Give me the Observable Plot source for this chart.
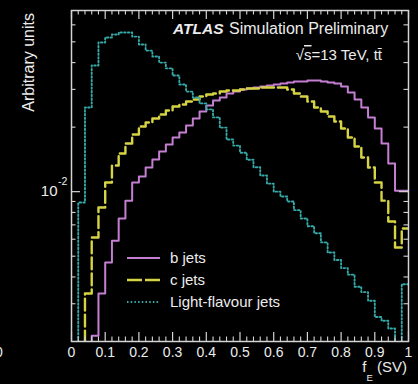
<!DOCTYPE html>
<html><head><meta charset="utf-8">
<script src="https://cdn.jsdelivr.net/npm/d3@7"></script>
<script src="https://cdn.jsdelivr.net/npm/@observablehq/plot@0.6"></script>
<style>
html,body{margin:0;padding:0;background:#000;}
#chart{width:418px;height:384px;overflow:hidden;}
</style></head><body><div id="chart"></div>
<script>
// ---- data ----
const binWidth = 0.02;
const binLow = d3.range(50).map(i => +(i * binWidth).toFixed(2)); // low edges of the 50 bins, 0 .. 0.98
const xMax = 1;
const seriesNames = ["b jets", "c jets", "Light-flavour jets"];
const seriesColors = ["#c47fd2", "#d6d444", "#36a8a8"];
const bJets = [0,0,0,0.00213,0.00335,0.00467,0.00591,0.00750,0.00908,0.01103,
  0.01177,0.01296,0.01413,0.01539,0.01660,0.01789,0.01888,0.02035,0.02194,0.02365,
  0.02523,0.02661,0.02749,0.02870,0.02932,0.02996,0.03028,0.03061,0.03094,0.03127,
  0.03162,0.03196,0.03230,0.03265,0.03265,0.03299,0.03299,0.03265,0.03230,0.03196,
  0.03094,0.02901,0.02691,0.02470,0.02217,0.01971,0.01678,0.01353,0.01011,0.01011];
const cJets = [0,0,0.00335,0.00611,0.00844,0.01103,0.01324,0.01507,0.01678,0.01848,
  0.02014,0.02102,0.02194,0.02291,0.02390,0.02496,0.02550,0.02634,0.02691,0.02779,
  0.02839,0.02870,0.02932,0.02963,0.02963,0.02996,0.03028,0.03028,0.03061,0.03061,
  0.03061,0.03061,0.02996,0.02870,0.02779,0.02634,0.02470,0.02365,0.02242,0.02125,
  0.01971,0.01789,0.01624,0.01443,0.01296,0.01103,0.00908,0.00726,0.00549,0.00673];
const lightJets = [0,0.0089,0.0247,0.0388,0.0496,0.0524,0.0541,0.0553,0.0553,0.0529,
  0.0486,0.0455,0.0427,0.0400,0.0376,0.0348,0.0316,0.0293,0.0275,0.0258,
  0.0242,0.0222,0.0199,0.0175,0.0164,0.0152,0.0141,0.0130,0.0119,0.0109,
  0.0100,0.0095,0.0090,0.0082,0.0075,0.0069,0.0064,0.0058,0.0052,0.0048,
  0.0044,0.0041,0.0036,0.0034,0.0031,0.0026,0.0025,0.0023,0,0.0037];
const xTickValues = [0,0.1,0.2,0.3,0.4,0.5,0.6,0.7,0.8,0.9,1];
const xTickLabels = ["0","0.1","0.2","0.3","0.4","0.5","0.6","0.7","0.8","0.9","1"];
const xMinorTicks = d3.range(0, 51).map(i => +(i * 0.02).toFixed(2)).filter(v => Math.abs(v * 10 - Math.round(v * 10)) > 1e-6);
const yTickValues = [0.01];
const yTickBase = "10", yTickExp = "-2";
const yMinorTicks = [0.003,0.004,0.005,0.006,0.007,0.008,0.009,0.02,0.03,0.04,0.05,0.06];
const yDomain = [0.002, 0.07];
const yTitle = "Arbitrary units";
const atlasBold = "ATLAS", atlasRest = "Simulation Preliminary";
const energyLabel = ["\u221A", "s", "=13 TeV, t", "t\u0304"];
const xTitle = ["f", "E", " (SV)"];

// ---- layout ----
const W = 418, H = 384, mL = 71, mR = 10, mT = 10, mB = 43;
const pw = W - mL - mR, ph = H - mT - mB;
const FONT = "'Liberation Sans', Arial, Helvetica, sans-serif";
const TXT = "#ececec", AX = "#d4d4d4";

function toSteps(vals, name) {
  const rows = vals.map((v, i) => ({x: binLow[i], v: v > 0 ? v : 1e-6, name}));
  rows.push({x: xMax, v: rows[rows.length - 1].v, name});
  return rows;
}
const series = [bJets, cJets, lightJets].map((vals, i) => toSteps(vals, seriesNames[i]));
const widths = [2, 2.4, 1.9];
const dashes = [null, "12,4", "1.5,2.2"];
const legendDashes = [null, "15,3", "1.5,2.2"];

function decorations(index, scales, values, dims) {
  const {width, height, marginLeft, marginRight, marginTop, marginBottom} = dims;
  const right = width - marginRight, bottom = height - marginBottom;
  const g = d3.create("svg:g").attr("font-family", FONT).attr("fill", TXT).attr("text-anchor", "start");
  // legend
  seriesNames.forEach((n, i) => {
    const y = bottom - 83 + 22 * i;
    const ln = g.append("line").attr("x1", marginLeft + 56).attr("x2", marginLeft + 89)
      .attr("y1", y).attr("y2", y).attr("stroke", seriesColors[i]).attr("stroke-width", widths[i]);
    if (legendDashes[i]) ln.attr("stroke-dasharray", legendDashes[i]);
    g.append("text").attr("x", marginLeft + 99).attr("y", y).attr("dy", "0.36em")
      .attr("text-anchor", "start").attr("font-size", 15).text(n);
  });
  // ATLAS label
  g.append("text").attr("x", marginLeft + 102).attr("y", marginTop + 23.5).attr("text-anchor", "start")
    .attr("font-size", 15.5).attr("font-weight", "bold").attr("font-style", "italic").text(atlasBold);
  g.append("text").attr("x", marginLeft + 158).attr("y", marginTop + 23.5).attr("text-anchor", "start")
    .attr("font-size", 16).text(atlasRest);
  const e = g.append("text").attr("x", right - 26).attr("y", marginTop + 50).attr("text-anchor", "end").attr("font-size", 15);
  e.append("tspan").text(energyLabel[0]);
  e.append("tspan").attr("text-decoration", "overline").style("text-decoration", "overline").text(energyLabel[1]);
  e.append("tspan").text(energyLabel[2]);
  e.append("tspan").text(energyLabel[3]);
  // x title
  const xt = g.append("text").attr("x", right - 1).attr("y", bottom + 31).attr("text-anchor", "end").attr("font-size", 15);
  xt.append("tspan").text(xTitle[0]);
  xt.append("tspan").attr("font-size", 9.5).attr("dy", 9).text(xTitle[1]);
  xt.append("tspan").attr("dy", -9).text(xTitle[2]);
  // y title
  g.append("text").attr("transform", `translate(33.5,${marginTop + 3}) rotate(-90)`)
    .attr("text-anchor", "end").attr("font-size", 16).text(yTitle);
  // exponent of the 10^-2 label
  yTickValues.forEach(v => {
    g.append("text").attr("x", marginLeft - 13).attr("y", scales.y(v) - 6)
      .attr("text-anchor", "start").attr("font-size", 10.5).text(yTickExp);
  });
  // fragment of a neighbouring label at the left edge
  g.append("text").attr("x", -1).attr("y", bottom + 6).attr("dy", "0.71em")
    .attr("text-anchor", "middle").attr("font-size", 14).text("0");
  return g.node();
}

const chart = Plot.plot({
  width: W, height: H,
  marginLeft: mL, marginRight: mR, marginTop: mT, marginBottom: mB,
  style: {background: "#000", color: TXT, fontFamily: FONT, overflow: "visible"},
  x: {domain: [0, xMax]},
  y: {type: "log", domain: yDomain},
  marks: [
    ...series.map((rows, i) => Plot.line(rows, {
      x: "x", y: "v", curve: "step-after", clip: true,
      stroke: seriesColors[i], strokeWidth: widths[i],
      strokeDasharray: dashes[i] || undefined
    })),
    // inward ticks (ROOT style)
    Plot.ruleX(xTickValues, {x: d => d, insetTop: ph - 9, stroke: AX, strokeWidth: 1.2}),
    Plot.ruleX(xTickValues, {x: d => d, insetBottom: ph - 9, stroke: AX, strokeWidth: 1.2}),
    Plot.ruleX(xMinorTicks, {x: d => d, insetTop: ph - 4.5, stroke: AX, strokeWidth: 1.1}),
    Plot.ruleX(xMinorTicks, {x: d => d, insetBottom: ph - 4.5, stroke: AX, strokeWidth: 1.1}),
    Plot.ruleY(yTickValues, {y: d => d, insetRight: pw - 9, stroke: AX, strokeWidth: 1.2}),
    Plot.ruleY(yTickValues, {y: d => d, insetLeft: pw - 9, stroke: AX, strokeWidth: 1.2}),
    Plot.ruleY(yMinorTicks, {y: d => d, insetRight: pw - 4.5, stroke: AX, strokeWidth: 1.1}),
    Plot.ruleY(yMinorTicks, {y: d => d, insetLeft: pw - 4.5, stroke: AX, strokeWidth: 1.1}),
    Plot.frame({stroke: AX, strokeWidth: 1.5}),
    Plot.axisX({ticks: xTickValues, tickSize: 0, tickPadding: 6, label: null, fontSize: 14,
      tickFormat: d => xTickLabels[xTickValues.indexOf(d)]}),
    Plot.axisY({ticks: yTickValues, tickSize: 0, tickPadding: 14, label: null, fontSize: 15,
      tickFormat: d => yTickBase}),
    decorations
  ]
});
document.getElementById("chart").appendChild(chart);
</script>
</body></html>
